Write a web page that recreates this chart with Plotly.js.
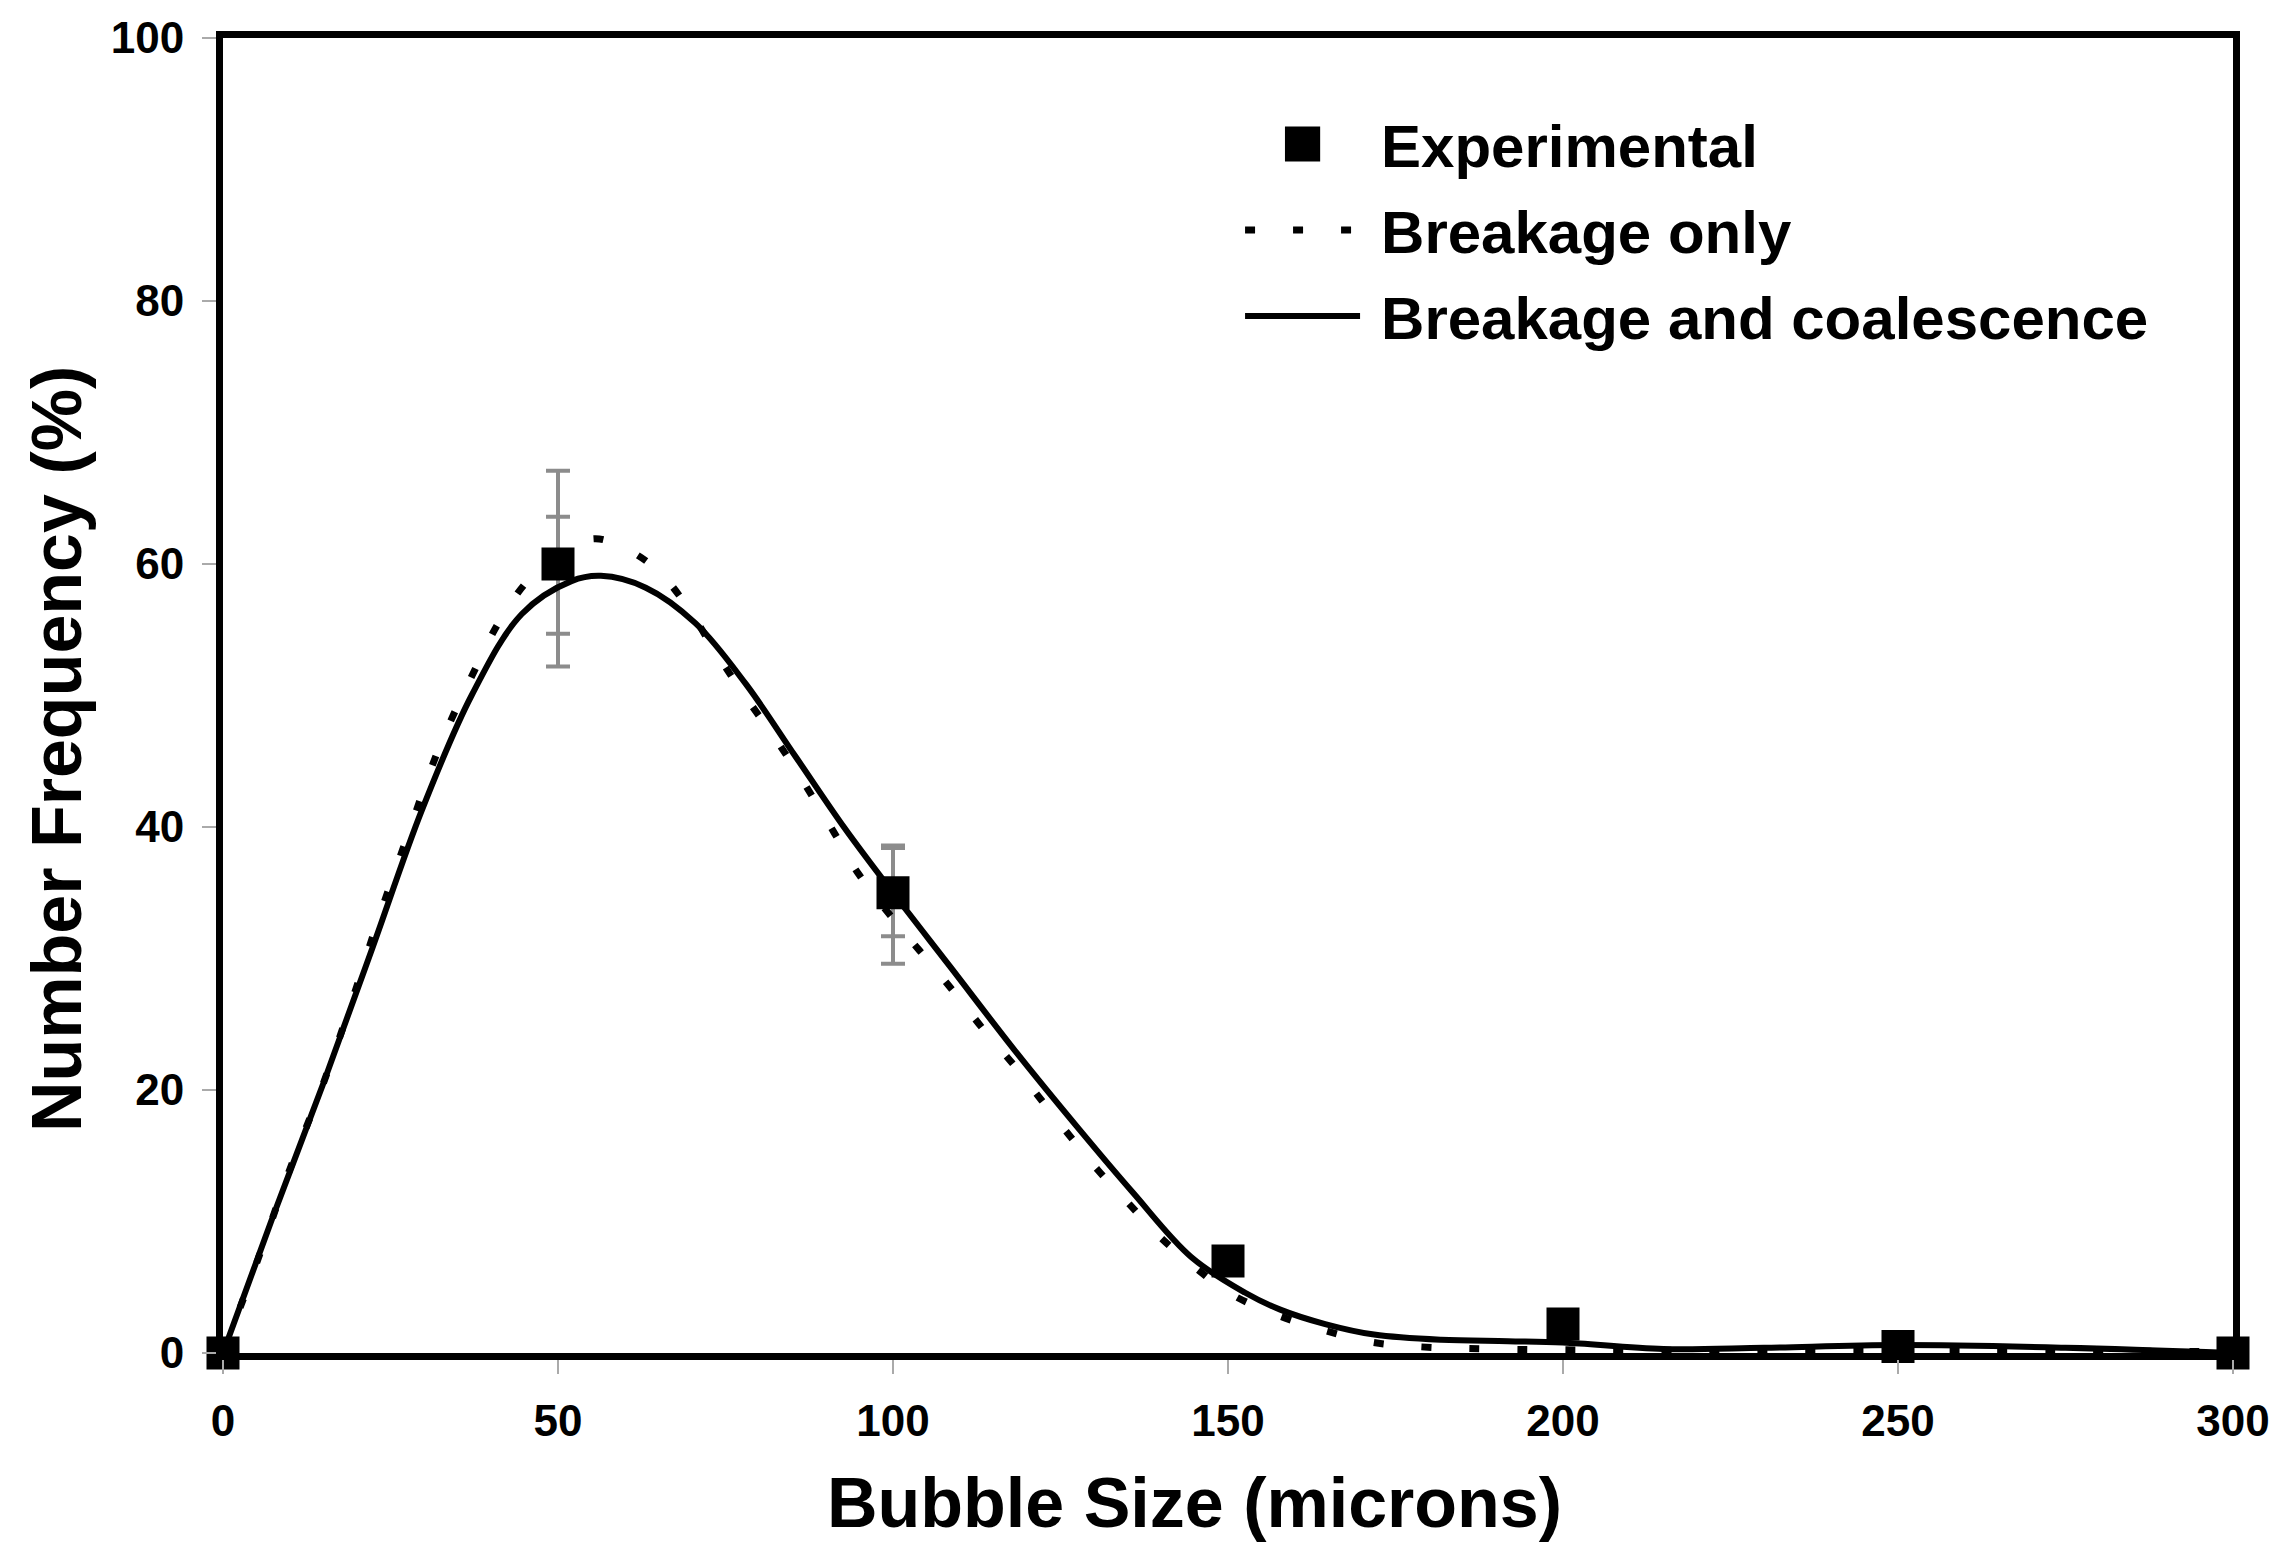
<!DOCTYPE html>
<html>
<head>
<meta charset="utf-8">
<script src="https://cdn.plot.ly/plotly-3.0.1.min.js"></script>
<style>
  html, body { margin: 0; padding: 0; background: #fff; }
  #chart { width: 2281px; height: 1559px; }
</style>
</head>
<body>
<div id="chart"></div>
<script>
// experimental bubble size distribution
const expSize = [0, 50, 100, 150, 200, 250, 300];
const expFreq = [0, 60, 35, 7, 2.2, 0.5, 0];
// two sets of error bars (outer and inner)
const errOuterPlus  = [0, 7.1, 3.6, 0, 0, 0, 0];
const errOuterMinus = [0, 7.8, 5.4, 0, 0, 0, 0];
const errInnerPlus  = [0, 3.6, 3.4, 0, 0, 0, 0];
const errInnerMinus = [0, 5.3, 3.3, 0, 0, 0, 0];

// model: breakage only (dotted)
const brkSize = [0, 5.2, 10, 14.9, 19.2, 23.4, 27.8, 32.4, 38.2, 41.2, 45.1, 50, 55, 58.3, 64.5, 69.1, 72.8, 76.5, 84.3, 91.3, 94.9, 101, 105.3, 109.5, 113.5, 118.2, 122.2, 126.4, 130.6, 135.3, 139.7, 145.1, 150.4, 157.8, 164.5, 171.1, 177.8, 190, 220, 260, 300];
const brkFreq = [0, 7.1, 14.0, 20.4, 26.7, 33.3, 39.7, 46.2, 52.6, 55.6, 58.5, 60.8, 61.9, 61.6, 59.7, 56.9, 53.9, 51.0, 45.3, 39.5, 36.4, 32.4, 29.8, 27.2, 24.6, 21.8, 19.2, 16.5, 13.9, 11.3, 8.9, 6.5, 4.5, 2.8, 1.7, 0.85, 0.5, 0.3, 0.2, 0.2, 0.1];

// model: breakage and coalescence (solid)
const bcSize = [0, 7.4, 14.9, 22.3, 29.7, 37.1, 44.6, 52, 56.4, 63.1, 70.5, 78, 85.4, 92.8, 100, 108.5, 118.5, 127.8, 135.8, 144.5, 152.5, 157.8, 164.5, 171.8, 181.8, 191.8, 200, 215, 230, 250, 275, 300];
const bcFreq = [0, 10.3, 20.4, 30.8, 41.3, 50.0, 56.2, 58.7, 59.1, 58.2, 55.5, 50.9, 45.4, 39.9, 35.0, 29.4, 22.8, 17.0, 12.2, 7.3, 4.6, 3.3, 2.2, 1.4, 1.0, 0.9, 0.8, 0.3, 0.4, 0.6, 0.4, 0];

const xTicks = [0, 50, 100, 150, 200, 250, 300];
const yTicks = [0, 20, 40, 60, 80, 100];

const FONT = 'Liberation Sans, Arial, Helvetica, sans-serif';

const errStyle = (plus, minus) => ({
    type: 'data', symmetric: false, array: plus, arrayminus: minus,
    color: '#8c8c8c', thickness: 4, width: 12
});

const data = [
    {
        x: expSize, y: expFreq, type: 'scatter', mode: 'markers',
        marker: { opacity: 0, size: 1 }, showlegend: false, hoverinfo: 'skip',
        error_y: errStyle(errOuterPlus, errOuterMinus)
    },
    {
        x: expSize, y: expFreq, type: 'scatter', mode: 'markers',
        marker: { opacity: 0, size: 1 }, showlegend: false, hoverinfo: 'skip',
        error_y: errStyle(errInnerPlus, errInnerMinus)
    },
    {
        name: 'Experimental', legendgroup: 'a',
        x: expSize, y: expFreq, type: 'scatter', mode: 'markers',
        marker: { symbol: 'square', size: 33, color: '#000' },
        cliponaxis: false
    },
    {
        name: 'Breakage only', legendgroup: 'b',
        x: brkSize, y: brkFreq, type: 'scatter', mode: 'lines',
        line: { color: '#000', width: 7, dash: '10px,38px', shape: 'spline', smoothing: 1 }
    },
    {
        name: 'Breakage and coalescence', legendgroup: 'c',
        x: bcSize, y: bcFreq, type: 'scatter', mode: 'lines',
        line: { color: '#000', width: 6, shape: 'spline', smoothing: 1 }
    }
];

const axisBase = {
    showline: true, linewidth: 7, linecolor: '#000', mirror: true,
    showgrid: false, zeroline: false,
    ticks: 'outside', ticklen: 14, tickwidth: 2, tickcolor: '#aaa',
    ticklabelstandoff: 9,
    tickfont: { family: FONT, size: 44, weight: 'bold', color: '#000' }
};

const layout = {
    width: 2281, height: 1559,
    margin: { l: 223, r: 48, t: 38, b: 206 },
    paper_bgcolor: '#fff', plot_bgcolor: '#fff',
    font: { family: FONT, color: '#000' },
    xaxis: Object.assign({}, axisBase, {
        range: [0, 300], tickvals: xTicks, ticktext: xTicks.map(String)
    }),
    yaxis: Object.assign({}, axisBase, {
        range: [0, 100], tickvals: yTicks, ticktext: yTicks.map(String)
    }),
    legend: {
        x: 0.506, y: 0.954, xanchor: 'left', yanchor: 'top',
        bgcolor: 'rgba(0,0,0,0)', borderwidth: 0,
        itemwidth: 115, traceorder: 'grouped', tracegroupgap: 5,
        font: { family: FONT, size: 60, weight: 'bold', color: '#000' }
    },
    annotations: [
        {
            text: 'Bubble Size (microns)', showarrow: false,
            xref: 'paper', yref: 'paper', x: 0.4831, y: -0.1141,
            xanchor: 'center', yanchor: 'middle',
            font: { family: FONT, size: 70, weight: 'bold', color: '#000' }
        },
        {
            text: 'Number Frequency (%)', showarrow: false, textangle: -90,
            xref: 'paper', yref: 'paper', x: -0.0826, y: 0.4593,
            xanchor: 'center', yanchor: 'middle',
            font: { family: FONT, size: 70, weight: 'bold', color: '#000' }
        }
    ],
    showlegend: true
};

Plotly.newPlot('chart', data, layout, { displayModeBar: false, staticPlot: true }).then(gd => {
    // plotly caps legend marker size; enlarge it to match the plot squares
    gd.querySelectorAll('.legend .legendpoints path.scatterpts').forEach(pt => {
        const tr = pt.getAttribute('transform') || '';
        pt.setAttribute('transform', tr + ' scale(2.2)');
    });
    // a little more room between the legend symbols and their text
    gd.querySelectorAll('.legend text.legendtext').forEach(t => {
        t.setAttribute('x', parseFloat(t.getAttribute('x') || 0) + 16);
    });
    // the shifted text would be cut by the legend clip box
    gd.querySelectorAll('.legend [clip-path]').forEach(e => e.removeAttribute('clip-path'));
});
</script>
</body>
</html>
